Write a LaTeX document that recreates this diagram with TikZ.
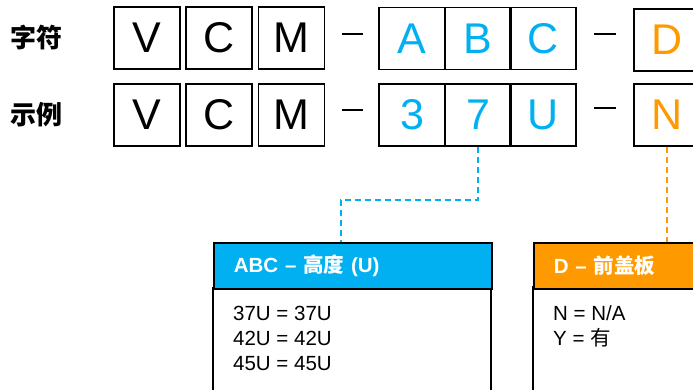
\documentclass[tikz,border=0pt]{standalone}
\usepackage{fontspec}
\setmainfont{Liberation Sans}
\newfontfamily\cjk{Noto Sans CJK SC}
\definecolor{skyblue}{HTML}{00B0F0}
\definecolor{amber}{HTML}{FF9900}
\tikzset{
  cell/.style = {draw, line width=1.6pt, minimum width=66pt, minimum height=62pt,
    inner sep=0pt, font=\fontsize{43}{43}\selectfont},
  rowlabel/.style = {anchor=west, inner sep=0pt, font=\cjk\bfseries\fontsize{26}{26}\selectfont},
  headbar/.style = {draw, line width=1.6pt, anchor=north west, minimum height=46pt,
    text width=238pt, inner xsep=20pt, inner ysep=0pt, align=left, text=white,
    font=\bfseries\fontsize{20.5}{24}\selectfont},
  listtext/.style = {anchor=north west, inner sep=0pt, align=left,
    font=\fontsize{20.5}{25}\selectfont},
  boxline/.style = {line width=1.6pt},
  sep/.style = {line width=1.5pt},
  link/.style = {line width=2pt, dash pattern=on 6pt off 4pt}
}
\begin{document}
\begin{tikzpicture}[x=1pt, y=-1pt]
    \useasboundingbox (0,0) rectangle (693,389);
    \clip (0,0) rectangle (693,389);

    % row labels
    \node[rowlabel] (charlbl) at (10, 38) {字符};
    \node[rowlabel] (examplbl) at (10, 115) {示例};

    % first row: characters
    \node[cell] (t1) at (147, 38) {V};
    \node[cell] (t2) at (219, 38) {C};
    \node[cell] (t3) at (291.5, 38) {M};
    \node[cell, text=skyblue] (t4) at (412, 38.5) {A};
    \node[cell, text=skyblue] (t5) at (478, 38.5) {B};
    \node[cell, text=skyblue] (t6) at (543, 38.5) {C};
    \node[cell, text=amber] (t7) at (667, 40) {D};

    % second row: example
    \node[cell] (e1) at (147, 115) {V};
    \node[cell] (e2) at (219, 115) {C};
    \node[cell] (e3) at (291.5, 115) {M};
    \node[cell, text=skyblue] (e4) at (412, 115) {3};
    \node[cell, text=skyblue] (e5) at (478, 115) {7};
    \node[cell, text=skyblue] (e6) at (543, 115) {U};
    \node[cell, text=amber] (e7) at (667, 115) {N};

    % dashes between groups
    \draw[sep] (342, 34) -- (363, 34);
    \draw[sep] (594, 34) -- (616, 34);
    \draw[sep] (342, 110) -- (363, 110);
    \draw[sep] (594, 108) -- (616, 108);

    % ABC box
    \draw[boxline] (213, 288) rectangle (491, 440);
    \node[headbar, fill=skyblue] (abchead) at (213, 242) {ABC – {\cjk 高度} (U)};
    \node[listtext] (abclist) at (233, 306) {37U = 37U\\42U = 42U\\45U = 45U};

    % D box
    \draw[boxline] (533, 287) rectangle (811, 440);
    \node[headbar, fill=amber] (dhead) at (533, 242) {D – {\cjk 前盖板}};
    \node[listtext] (dlist) at (553, 305) {N = N/A\\Y = {\cjk 有}};

    % links
    \coordinate (abcin) at (341, 242);
    \draw[link, skyblue] (e5.south) -- ++(0, 53) -| (abcin);
    \draw[link, amber] (e7.south) -- (e7.south |- dhead.north);
\end{tikzpicture}
\end{document}
